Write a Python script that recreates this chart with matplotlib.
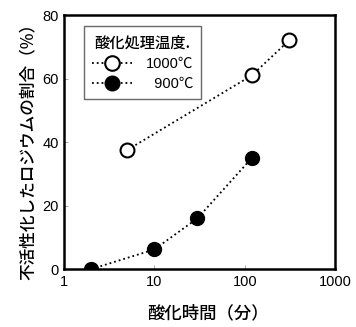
import matplotlib
matplotlib.use("Agg")
import matplotlib.pyplot as plt

plt.rcParams['font.family'] = ['Liberation Sans', 'Noto Sans CJK JP', 'DejaVu Sans']

# oxidation time (min) vs. fraction of deactivated rhodium (%)
t_1000 = [5, 120, 310]
v_1000 = [37.5, 61, 72]
t_900 = [2, 10, 30, 120]
v_900 = [0, 6.2, 16, 35]

label_1000 = "1000℃"
label_900 = "  900℃"
xticks = [1, 10, 100, 1000]
xticklabels = ["1", "10", "100", "1000"]
yticks = [0, 20, 40, 60, 80]

jp = ['Noto Sans CJK JP', 'Liberation Sans', 'DejaVu Sans']

fig = plt.figure(figsize=(3.56, 3.27), dpi=100)
ax = fig.add_axes([0.18, 0.177, 0.761, 0.777])

ax.plot(t_1000, v_1000, linestyle=':', color='black', linewidth=1.3,
        marker='o', markersize=10, markerfacecolor='white',
        markeredgecolor='black', markeredgewidth=1.5, label=label_1000)
ax.plot(t_900, v_900, linestyle=':', color='black', linewidth=1.3,
        marker='o', markersize=10, markerfacecolor='black',
        markeredgecolor='black', label=label_900)

ax.set_xscale('log')
ax.set_xlim(1, 1000)
ax.set_ylim(0, 80)
ax.set_xticks(xticks)
ax.set_xticklabels(xticklabels)
ax.xaxis.set_minor_locator(matplotlib.ticker.NullLocator())
ax.set_yticks(yticks)
ax.tick_params(direction='in', length=3, width=0.6, color='#999999',
               labelsize=10.5, pad=4)

for s in ax.spines.values():
    s.set_linewidth(1.8)

xl = ax.set_xlabel("酸化時間（分）", fontsize=12.5, family=jp, weight='medium', labelpad=11)
xl.set_x(0.53)
yl = ax.set_ylabel("不活性化したロジウムの割合（%）", fontsize=12, family=jp, weight='medium', labelpad=4)
yl.set_y(0.48)

leg = ax.legend(title="酸化処理温度.", loc='upper left', bbox_to_anchor=(0.045, 0.985),
                frameon=True, fancybox=False, edgecolor='#444444',
                numpoints=1, handlelength=2.8, handletextpad=0.9,
                prop={'size': 10.5}, borderpad=0.55,
                labelspacing=0.4, markerscale=1.05)
leg.get_title().set_fontfamily(jp)
leg.get_title().set_fontsize(11)
leg.get_title().set_fontweight('medium')
leg.get_frame().set_linewidth(1.0)

fig.savefig("out.png", dpi=100)
